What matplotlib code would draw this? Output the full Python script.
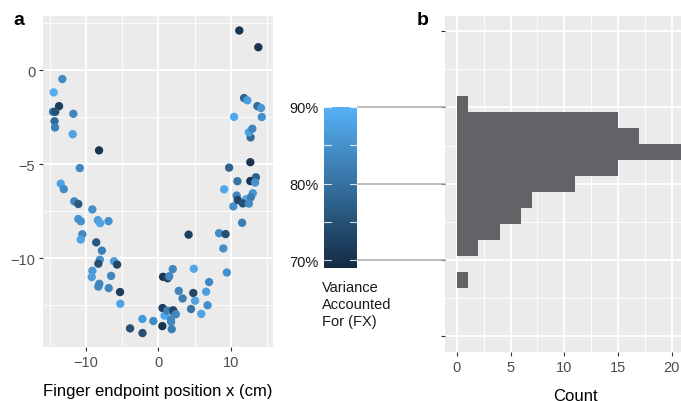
import matplotlib
matplotlib.use('Agg')
import matplotlib.pyplot as plt
import matplotlib.transforms as mtransforms
from matplotlib.colors import LinearSegmentedColormap, Normalize
from matplotlib.lines import Line2D

plt.rcParams['font.family'] = ['Liberation Sans', 'DejaVu Sans']

# panel a: finger endpoint positions (cm), coloured by variance accounted for (%)
finger_x = [-13.28, -14.47, -13.73, -14.56, -14.25, -11.76, -14.36, -14.29, -11.84, -8.20,
            -10.86, -13.50, -13.08, -11.63, -11.07, -9.13, -11.07, -10.72, -8.37, -8.04,
            -6.89, -10.51, -10.73, -8.59, -7.81, -8.09, -8.30, -6.13, -5.71, -9.13,
            -9.21, -6.54, -8.16, -8.30, -6.86, -5.30, -5.26, -3.91, -2.21, -2.19,
            -0.69, 0.58, 0.86, 0.55, 0.65, 1.27, 1.51, 1.99, 1.23, 1.80,
            2.06, 2.41, 1.73, 1.76, 1.85, 2.82, 3.35, 4.18, 4.90, 4.83,
            5.08, 4.52, 6.60, 7.01, 6.80, 5.93, 8.40, 9.29, 8.98, 9.47,
            9.09, 10.36, 10.82, 10.98, 11.58, 12.10, 10.93, 12.71, 13.06, 12.79,
            11.67, 12.52, 13.49, 13.37, 9.78, 12.71, 12.75, 12.52, 12.99, 14.30,
            10.47, 13.69, 14.20, 11.85, 12.30, 11.19, 13.82]
finger_y = [-0.48, -1.19, -1.92, -2.22, -2.22, -2.33, -2.72, -3.05, -3.41, -4.27,
            -5.21, -6.04, -6.33, -6.98, -7.12, -7.41, -7.92, -8.04, -7.98, -8.14,
            -8.03, -8.73, -9.01, -9.16, -9.60, -10.08, -10.29, -10.16, -10.34, -10.67,
            -11.00, -10.94, -11.36, -11.51, -11.59, -11.80, -12.42, -13.73, -13.23, -13.98,
            -13.34, -12.65, -13.05, -13.61, -10.99, -11.07, -10.96, -10.58, -12.79, -12.80,
            -12.77, -12.98, -13.25, -13.39, -13.77, -11.74, -12.14, -8.75, -10.56, -11.85,
            -12.26, -12.70, -11.78, -11.27, -12.50, -12.96, -8.67, -8.72, -9.48, -10.76,
            -6.34, -7.25, -6.67, -6.91, -8.12, -6.87, -5.91, -5.90, -6.55, -6.76,
            -7.09, -7.10, -5.70, -5.98, -5.19, -4.90, -3.58, -3.31, -3.12, -2.50,
            -2.49, -1.92, -2.02, -1.49, -1.61, 2.10, 1.21]
variance = [84.0, 89.2, 71.9, 80.4, 74.8, 83.3, 79.0, 81.9, 87.7, 70.5,
            83.3, 87.7, 84.0, 83.3, 76.2, 84.8, 85.5, 84.8, 87.0, 87.7,
            84.8, 83.3, 87.7, 76.2, 81.9, 84.8, 74.8, 87.0, 73.4, 86.2,
            87.0, 83.3, 83.3, 83.3, 83.3, 71.9, 87.7, 74.8, 86.2, 74.8,
            84.0, 71.9, 88.4, 70.5, 70.5, 73.4, 83.3, 83.3, 81.9, 83.3,
            73.4, 83.3, 84.0, 83.3, 81.9, 83.3, 81.9, 71.9, 88.4, 73.4,
            87.7, 80.4, 87.0, 83.3, 84.8, 87.7, 84.0, 74.8, 84.8, 84.8,
            88.4, 84.8, 83.3, 73.4, 81.9, 88.4, 80.4, 70.5, 85.5, 81.9,
            74.8, 84.0, 77.6, 84.8, 77.6, 70.5, 79.0, 87.0, 83.3, 84.8,
            88.4, 79.0, 85.5, 77.6, 87.0, 70.5, 70.5]

# panel b: histogram of variance accounted for
bin_edges = [66.25, 68.35, 70.45, 72.55, 74.65, 76.75, 78.85, 80.95, 83.05, 85.15, 87.25, 89.35, 91.45]
bin_counts = [1, 0, 2, 4, 6, 7, 11, 15, 22, 17, 15, 1]

cb_ticks = [70, 80, 90]
cb_labels = ['70%', '80%', '90%']

W, H = 681, 402
fig = plt.figure(figsize=(W / 100, H / 100), dpi=100)
axa = fig.add_axes([43 / W, 1 - 348 / H, 230 / W, 331 / H])
cax = fig.add_axes([324 / W, 1 - 269 / H, 33 / W, 161 / H])
axb = fig.add_axes([445 / W, 1 - 353 / H, 260 / W, 336 / H])


def gg_style(ax):
    ax.set_facecolor('#EBEBEB')
    for s in ax.spines.values():
        s.set_visible(False)
    ax.grid(which='major', color='white', lw=1.3)
    ax.grid(which='minor', color='white', lw=0.6)
    ax.set_axisbelow(True)
    ax.tick_params(which='major', length=3, width=0.8, color='#333333',
                   labelcolor='#4D4D4D', labelsize=10.5, pad=2.5)
    ax.tick_params(which='minor', length=0)


cmap = LinearSegmentedColormap.from_list('gg', ['#132B43', '#56B1F7'])
norm = Normalize(vmin=69.0, vmax=90.0)

# panel a
gg_style(axa)
sc = axa.scatter(finger_x, finger_y, c=variance, cmap=cmap, norm=norm, s=36, edgecolors='none', zorder=3)
axa.set_xlim(-15.95, 15.85)
axa.set_ylim(-14.72, 2.87)
axa.set_xticks([-10, 0, 10])
axa.set_xticks([-15, -5, 5, 15], minor=True)
axa.set_yticks([-10, -5, 0])
axa.set_yticks([-12.5, -7.5, -2.5, 2.5], minor=True)
axa.set_xlabel('Finger endpoint position x (cm)', fontsize=12, color='black', labelpad=10)

# colour bar
cb = fig.colorbar(sc, cax=cax)
cb.outline.set_visible(False)
cax.yaxis.set_ticks_position('left')
cb.set_ticks(cb_ticks)
cb.set_ticklabels(cb_labels)
cax.tick_params(length=0, labelsize=10.5, labelcolor='#1A1A1A', pad=4)
for v in [70, 75, 80, 85, 90]:
    cax.plot([0, 0.2], [v, v], transform=cax.get_yaxis_transform(), color='white', lw=0.8, alpha=0.8)
    cax.plot([0.8, 1], [v, v], transform=cax.get_yaxis_transform(), color='white', lw=0.8, alpha=0.8)
fig.text(322 / W, 1 - 281 / H, 'Variance\nAccounted\nFor (FX)', ha='left', va='top',
         fontsize=10.5, color='#1A1A1A', linespacing=1.28)

# panel b
gg_style(axb)
axb.barh(bin_edges[:-1], bin_counts, height=[b - a for a, b in zip(bin_edges[:-1], bin_edges[1:])],
         align='edge', color='#636367', zorder=3)
axb.set_xlim(-1.1, 23.1)
axb.set_ylim(57.9, 102.0)
axb.set_xticks([0, 5, 10, 15, 20])
axb.set_xticks([2.5, 7.5, 12.5, 17.5, 22.5], minor=True)
axb.set_yticks([60, 70, 80, 90, 100])
axb.set_yticklabels([])
axb.set_yticks([65, 75, 85, 95], minor=True)
axb.set_xlabel('Count', fontsize=12, color='black', labelpad=10)

# lines joining colour bar to histogram
trans = mtransforms.blended_transform_factory(fig.transFigure, axb.transData)
for v in cb_ticks:
    fig.add_artist(Line2D([358 / W, 445 / W], [v, v], transform=trans, color='#ABABAB', lw=1.1))

fig.text(13 / W, 1 - 25 / H, 'a', fontsize=14, fontweight='bold', va='baseline')
fig.text(417 / W, 1 - 25 / H, 'b', fontsize=14, fontweight='bold', va='baseline')

fig.savefig('out.png', dpi=100)
